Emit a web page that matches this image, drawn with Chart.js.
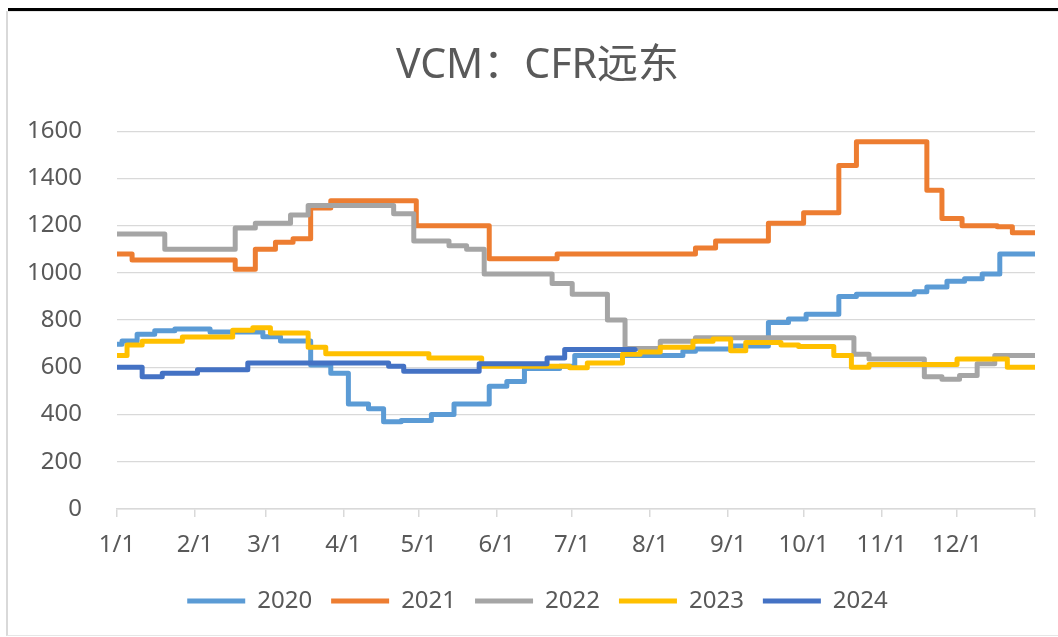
<!DOCTYPE html>
<html><head><meta charset="utf-8">
<script src="https://cdn.jsdelivr.net/npm/chart.js@4/dist/chart.umd.min.js"></script>
<style>
html,body{margin:0;padding:0;background:#fff;}
#wrap{position:relative;width:1058px;height:637px;overflow:hidden;}
#frame{position:absolute;left:6px;top:11px;width:1060px;height:623px;border-left:2px solid #d9d9d9;border-top:1px solid #e6e6e6;border-bottom:1px solid #e6e6e6;}
#bar{position:absolute;left:8px;top:8px;right:0;height:3px;background:#000;}
canvas{position:absolute;left:0;top:0;}
</style></head>
<body><div id="wrap"><div id="frame"></div><div id="bar"></div><canvas id="c" width="1058" height="637"></canvas></div>
<script>
// x positions are day-of-year (0 = 1/1); each point marks where a new price level starts
const monthStarts = [0,31,59,90,120,151,181,212,243,273,304,334,365];
const monthLabels = ['1/1','2/1','3/1','4/1','5/1','6/1','7/1','8/1','9/1','10/1','11/1','12/1',''];
const seriesNames = ['2020','2021','2022','2023','2024'];
const seriesColors = ['#5B9BD5','#ED7D31','#A5A5A5','#FFC000','#4472C4'];

const days2020 = [0,2,8,15,23,37,58,65,77,85,92,100,106,113,125,134,148,155,162,176,182,225,230,245,259,267,274,287,294,317,322,330,337,344,351,365];
const vals2020 = [698,712,740,755,762,750,730,712,610,575,445,425,370,375,400,445,520,540,595,605,650,668,678,690,790,805,825,900,910,920,940,965,975,995,1080,1080];

const days2021 = [0,6,47,55,63,70,77,85,119,148,175,230,238,259,273,287,294,322,328,336,350,356,365];
const vals2021 = [1080,1055,1015,1100,1130,1145,1275,1305,1200,1060,1080,1105,1135,1210,1255,1455,1555,1350,1230,1200,1195,1170,1170];

const days2022 = [0,19,47,55,69,76,110,118,132,139,146,173,181,195,202,216,230,293,299,321,328,335,342,349,365];
const vals2022 = [1165,1100,1190,1210,1245,1285,1250,1135,1115,1100,995,955,910,800,680,710,725,655,635,560,550,565,615,650,650];

const days2023 = [0,4,10,26,46,54,61,76,83,124,145,180,187,201,208,216,229,237,244,250,264,271,285,292,299,334,354,365];
const vals2023 = [650,695,710,728,757,768,745,685,657,640,605,598,618,655,665,685,710,720,670,705,695,688,650,600,612,635,600,600];

const days2024 = [0,10,18,32,52,108,114,144,171,178,206];
const vals2024 = [600,560,575,590,618,605,583,615,640,675,675];

const allDays = [days2020, days2021, days2022, days2023, days2024];
const allVals = [vals2020, vals2021, vals2022, vals2023, vals2024];

const datasets = seriesNames.map((name, i) => ({
  label: name,
  data: allDays[i].map((d, j) => ({x: d, y: allVals[i][j]})),
  borderColor: seriesColors[i],
  backgroundColor: seriesColors[i],
  borderWidth: 5,
  pointRadius: 0,
  pointHoverRadius: 0,
  stepped: true,
  fill: false,
  borderJoinStyle: 'round',
  borderCapStyle: 'round',
  order: seriesNames.length - 1 - i
}));

const txt = '#595959';
const fam = "'Noto Sans', 'Noto Sans CJK SC', sans-serif";

// centre the title and legend over the same span as the reference (x 40 .. 1035)
const shiftBoxes = {
  id: 'shiftBoxes',
  afterLayout(chart) {
    if (chart.titleBlock) chart.titleBlock.left = 40;
    if (chart.legend) chart.legend.left = 40;
  }
};

new Chart(document.getElementById('c'), {
  type: 'line',
  data: {datasets},
  plugins: [shiftBoxes],
  options: {
    responsive: false,
    animation: false,
    devicePixelRatio: 1,
    layout: {padding: {left: 0, right: 23, top: 0, bottom: 14}},
    plugins: {
      tooltip: {enabled: false},
      title: {
        display: true,
        text: 'VCM：CFR远东',
        color: txt,
        font: {family: fam, size: 41, weight: 'normal', lineHeight: 1.2},
        padding: {top: 42, bottom: 40}
      },
      legend: {
        position: 'bottom',
        labels: {
          boxWidth: 58,
          boxHeight: 5,
          padding: 19,
          color: txt,
          font: {family: fam, size: 24},
          generateLabels: (chart) => chart.data.datasets.map((ds, i) => ({
            text: ds.label,
            fillStyle: ds.borderColor,
            strokeStyle: ds.borderColor,
            lineWidth: 0,
            hidden: false,
            datasetIndex: i,
            fontColor: txt
          }))
        }
      }
    },
    scales: {
      x: {
        type: 'linear',
        min: 0,
        max: 365,
        afterBuildTicks: (axis) => { axis.ticks = monthStarts.map(v => ({value: v})); },
        afterFit: (s) => { s.height = 61; },
        ticks: {
          autoSkip: false,
          maxRotation: 0,
          color: txt,
          padding: 14,
          font: {family: fam, size: 24},
          callback: (v, i) => monthLabels[i]
        },
        grid: {drawOnChartArea: false, drawTicks: true, tickLength: 8, color: '#d9d9d9', lineWidth: 1.5},
        border: {display: true, color: '#d9d9d9', width: 1.5}
      },
      y: {
        min: 0,
        max: 1600,
        afterFit: (s) => { s.width = 117; },
        ticks: {stepSize: 200, color: txt, padding: 35, font: {family: fam, size: 24}, callback: (v) => String(v)},
        grid: {color: '#d9d9d9', lineWidth: 1.3, drawTicks: false},
        border: {display: false}
      }
    }
  }
});
</script>
</body></html>
